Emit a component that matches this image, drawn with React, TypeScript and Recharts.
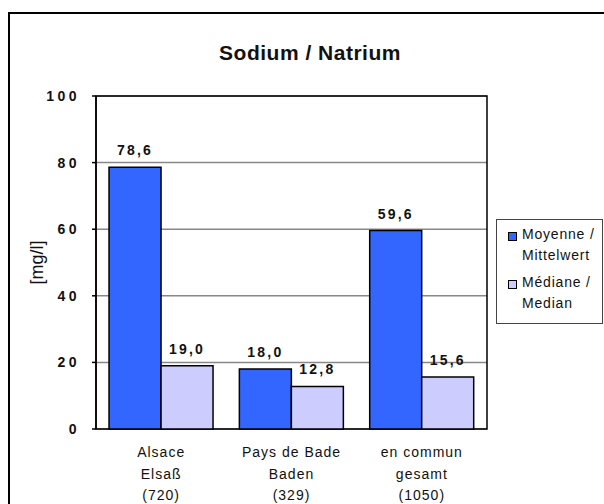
import React from 'react';
import { BarChart, Bar, XAxis, YAxis, CartesianGrid, Legend, LabelList, ReferenceArea } from 'recharts';

const regionsFr = ['Alsace', 'Pays de Bade', 'en commun'];
const regionsDe = ['Elsaß', 'Baden', 'gesamt'];
const sampleCounts = ['(720)', '(329)', '(1050)'];
const meanValues = [78.6, 18.0, 59.6];
const medianValues = [19.0, 12.8, 15.6];
const yTicks = [0, 20, 40, 60, 80, 100];
const edgeTicks = [0, 1, 2, 3];
const seriesNames = ['Moyenne / Mittelwert', 'Médiane / Median'];

const data = regionsFr.map((name, i) => ({
  name,
  mean: meanValues[i],
  median: medianValues[i],
}));

const FONT = 'Arial, "Liberation Sans", sans-serif';
const BLUE = '#3366FF';
const LAVENDER = '#CCCCFF';

const fmt = (v: number) => v.toFixed(1).replace('.', ',');

function CategoryTick(props: any) {
  const { x, y, payload } = props;
  const i = payload.index;
  return (
    <text x={x} y={y} textAnchor="middle" fontFamily={FONT} fontSize={14} letterSpacing={1} fill="#111">
      <tspan x={x} dy={20}>{regionsFr[i]}</tspan>
      <tspan x={x} dy={21.5}>{regionsDe[i]}</tspan>
      <tspan x={x} dy={21.5}>{sampleCounts[i]}</tspan>
    </text>
  );
}

function LegendBox() {
  const colors = [BLUE, LAVENDER];
  return (
    <div
      style={{
        border: '1px solid #444',
        width: 107,
        height: 105,
        boxSizing: 'border-box',
        padding: '8px 0 0 11px',
        fontFamily: FONT,
        fontSize: 14,
        letterSpacing: 0.8,
        color: '#111',
        background: '#fff',
        textAlign: 'left',
      }}
    >
      {seriesNames.map((n, i) => {
        const [a, b] = n.split(' / ');
        return (
          <div key={n} style={{ display: 'flex', marginBottom: 10 }}>
            <div
              style={{
                width: 7,
                height: 7,
                background: colors[i],
                border: '1.5px solid #000',
                marginTop: 4,
                marginRight: 5,
                flexShrink: 0,
              }}
            />
            <div style={{ lineHeight: '21px', marginTop: -4 }}>
              {a} /<br />
              {b}
            </div>
          </div>
        );
      })}
    </div>
  );
}

export default function App() {
  return (
    <div style={{ position: 'absolute', left: 0, top: 0, width: 604, height: 504, background: '#fff', overflow: 'hidden' }}>
      <div style={{ position: 'absolute', left: 8, top: 12, width: 596, height: 2, background: '#000' }} />
      <div style={{ position: 'absolute', left: 8, top: 12, width: 2, height: 492, background: '#000' }} />
      <div
        style={{
          position: 'absolute',
          left: 0,
          width: 620,
          top: 41,
          textAlign: 'center',
          fontFamily: FONT,
          fontWeight: 'bold',
          fontSize: 21,
          letterSpacing: 0.5,
          color: '#111',
        }}
      >
        Sodium / Natrium
      </div>
      <BarChart
        width={604}
        height={504}
        data={data}
        margin={{ top: 96, right: 117, bottom: 0, left: 0 }}
        barCategoryGap="10%"
        barGap={0}
        style={{ position: 'absolute', left: 0, top: 0 }}
      >
        <CartesianGrid xAxisId="cat" vertical={false} stroke="#888" strokeWidth={1.5} />
        <XAxis
          xAxisId="edge"
          type="number"
          domain={[0, 3]}
          ticks={edgeTicks}
          tickFormatter={() => ''}
          height={0}
          stroke="#000"
          strokeWidth={1.5}
          tickSize={5}
        />
        <XAxis
          xAxisId="cat"
          dataKey="name"
          height={75}
          axisLine={false}
          tickLine={false}
          interval={0}
          tick={<CategoryTick />}
        />
        <YAxis
          domain={[0, 100]}
          ticks={yTicks}
          width={96}
          stroke="#000"
          strokeWidth={1.5}
          tickSize={4}
          tickMargin={12}
          tick={{ fontFamily: FONT, fontSize: 14, fontWeight: 'bold', fill: '#111', letterSpacing: 3.5 }}
          label={{
            value: '[mg/l]',
            angle: -90,
            position: 'insideLeft',
            offset: 37,
            style: { textAnchor: 'middle', fontFamily: FONT, fontSize: 18, fill: '#111' },
          }}
        />
        <ReferenceArea xAxisId="cat" y1={0} y2={100} stroke="#000" strokeWidth={1.5} fill="none" ifOverflow="visible" />
        <Legend
          layout="horizontal"
          verticalAlign="middle"
          align="center"
          content={<LegendBox />}
          wrapperStyle={{ position: 'absolute', left: 496, top: 219, width: 108, height: 105 }}
        />
        <Bar xAxisId="cat" dataKey="mean" name={seriesNames[0]} fill={BLUE} stroke="#000" strokeWidth={1.5} isAnimationActive={false}>
          <LabelList
            dataKey="mean"
            position="top"
            offset={12}
            formatter={(v: any) => fmt(Number(v))}
            style={{ fontFamily: FONT, fontSize: 14, fontWeight: 'bold', fill: '#111', letterSpacing: 2.2 }}
          />
        </Bar>
        <Bar xAxisId="cat" dataKey="median" name={seriesNames[1]} fill={LAVENDER} stroke="#000" strokeWidth={1.5} isAnimationActive={false}>
          <LabelList
            dataKey="median"
            position="top"
            offset={12}
            formatter={(v: any) => fmt(Number(v))}
            style={{ fontFamily: FONT, fontSize: 14, fontWeight: 'bold', fill: '#111', letterSpacing: 2.2 }}
          />
        </Bar>
      </BarChart>
    </div>
  );
}
